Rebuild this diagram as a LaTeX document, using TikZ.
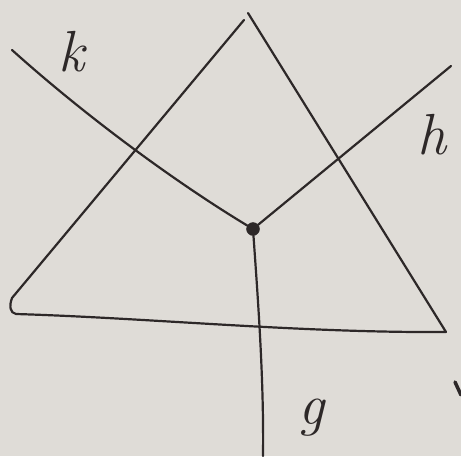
\documentclass[tikz,border=0pt]{standalone}
\usepackage{fontspec}
\definecolor{paper}{RGB}{223,220,215}
\definecolor{ink}{RGB}{45,40,40}
\begin{document}
\begin{tikzpicture}[x=1pt,y=-1pt,
  stroke/.style={draw=ink,line width=2.2pt,line cap=round,line join=round},
  lbl/.style={text=ink,font=\fontsize{58}{58}\selectfont\itshape,inner sep=0pt}]
\fill[paper] (0,0) rectangle (461,456);
\useasboundingbox (0,0) rectangle (461,456);
% triangle
\draw[stroke] (244,20) -- (12,298) .. controls (9,306) and (10,313) .. (16,314)
  .. controls (150,318) and (300,333) .. (446,332) -- (248,13);
% centre dot
\node[circle,fill=ink,draw=ink,minimum size=13pt,inner sep=0pt] (c) at (253,229) {};
\coordinate (kend) at (12,50);
\coordinate (hend) at (451,66);
\coordinate (gend) at (263,456);
\draw[stroke] (c) .. controls (180,185) and (90,120) .. (kend);
\draw[stroke] (c) -- (hend);
\draw[stroke] (c) .. controls (258,300) and (264,380) .. (gend);
% stray mark at right edge
\coordinate (m1) at (455,382);
\coordinate (m2) at (461,395);
\draw[ink,line width=3.5pt,line cap=round] (m1) -- (m2);
% labels
\node[lbl] (k) at (72,52) {k};
\node[lbl] (h) at (432,135) {h};
\node[lbl] (g) at (312,418) {g};
\end{tikzpicture}
\end{document}
